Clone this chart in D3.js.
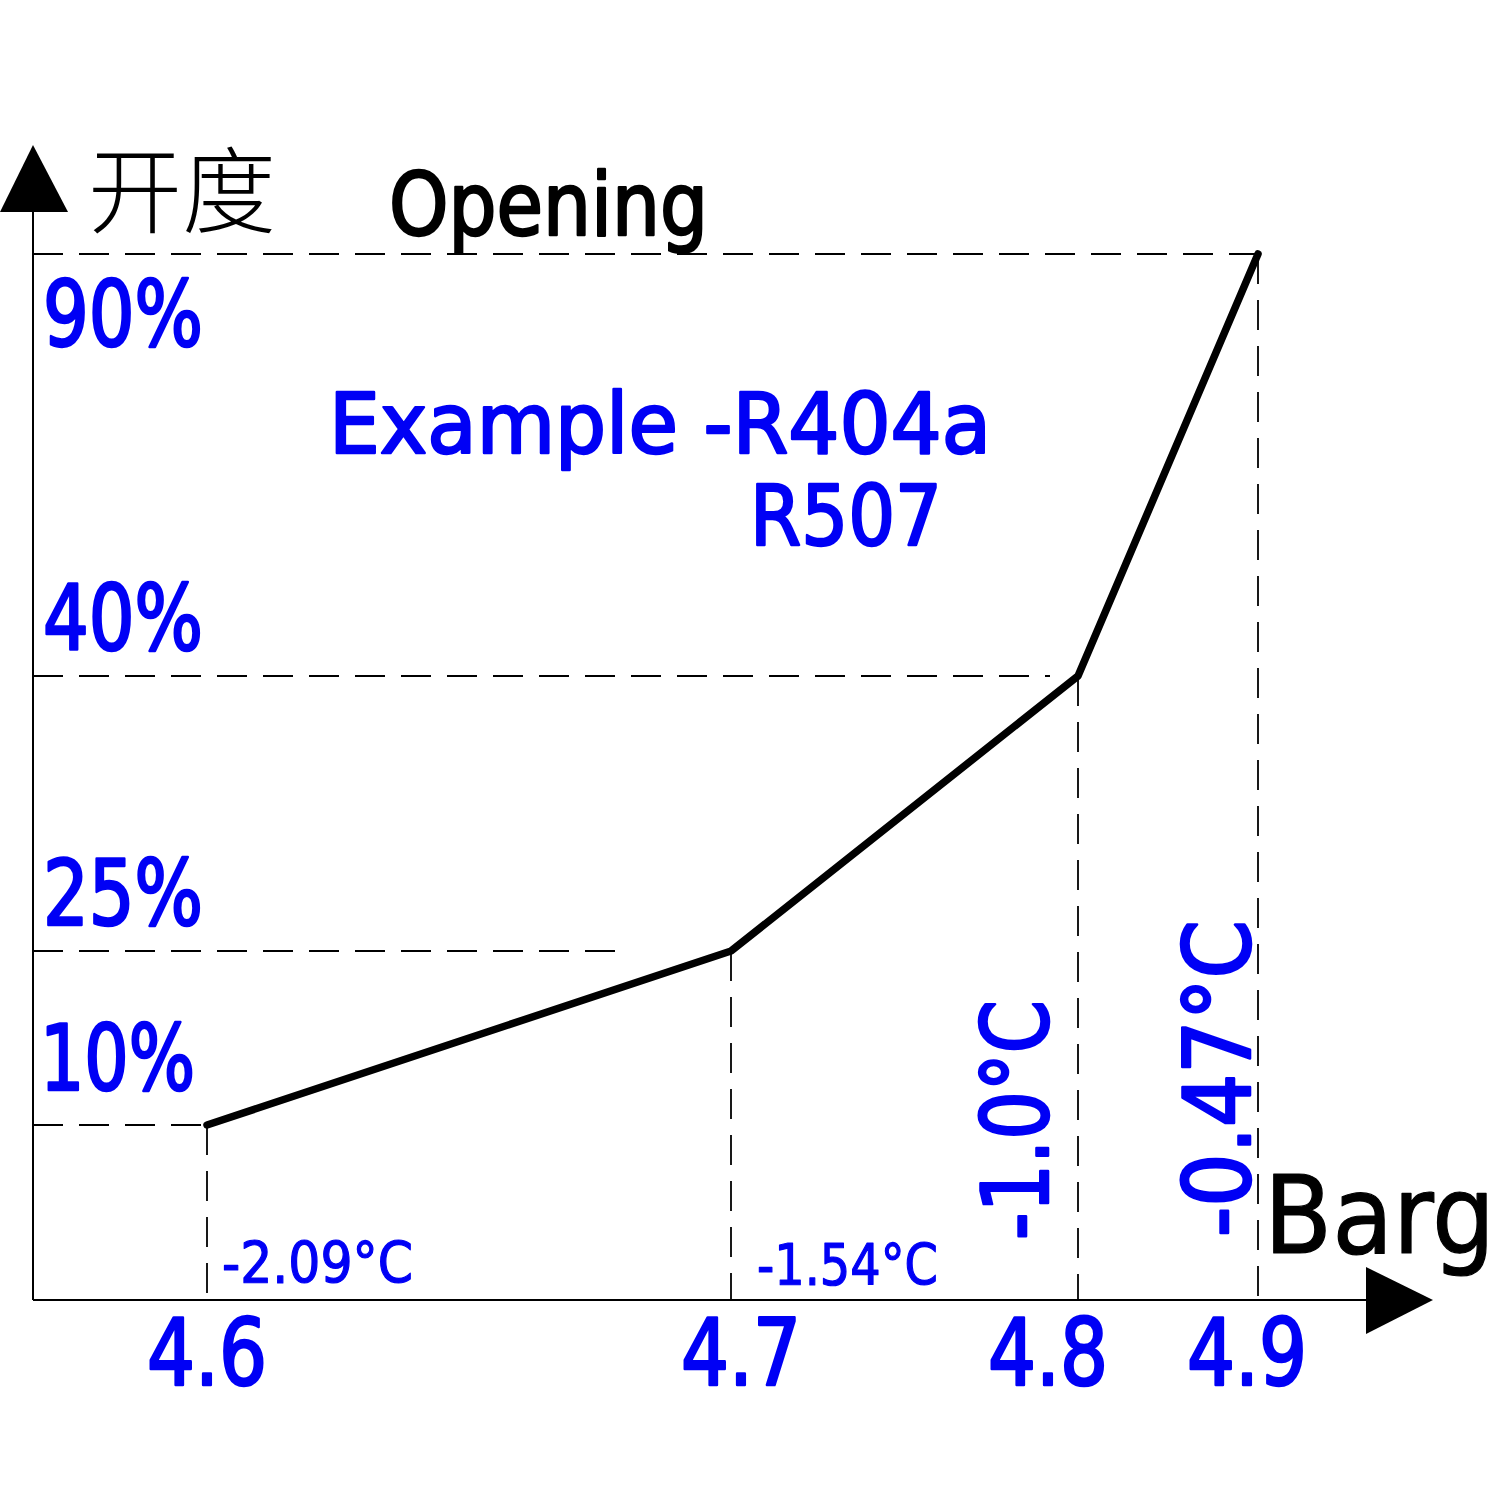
<!DOCTYPE html>
<html>
<head>
<meta charset="utf-8">
<script src="https://cdn.jsdelivr.net/npm/d3@7"></script>
<style>
  html, body { margin: 0; padding: 0; background: #fff; }
  svg { display: block; }
</style>
</head>
<body>
<div id="chart"></div>
<script>
// data
const pressures = [4.6, 4.7, 4.8, 4.9];          // Barg
const openings = [10, 25, 40, 90];               // %
const xTickLabels = ["4.6", "4.7", "4.8", "4.9"];
const yTickLabels = ["10%", "25%", "40%", "90%"];
const tempLabels = ["-2.09°C", "-1.54°C", "-1.0°C", "-0.47°C"];

const width = 1500, height = 1500;
const origin = { x: 33, y: 1300 };
const FONT = "'DejaVu Sans Condensed', 'DejaVu Sans', sans-serif";
const BLUE = "#0000f5";

const svg = d3.select("#chart").append("svg")
  .attr("width", width)
  .attr("height", height);

// the sketch is not to scale, so both scales are piecewise
const x = d3.scaleLinear().domain(pressures).range([207, 731, 1078, 1258]);
const y = d3.scaleLinear().domain([0, ...openings]).range([origin.y, 1125, 951, 676, 254]);

const points = pressures.map((p, i) => ({ p, v: openings[i] }));

// medium-weight look: regular glyphs with a thin outline of the same colour
function medium(sel, color, w) {
  sel.attr("fill", color).attr("stroke", color).attr("stroke-width", w)
    .attr("stroke-linejoin", "round");
}

// dashed guides
const guides = svg.append("g")
  .attr("stroke", "#000")
  .attr("stroke-width", 1.8)
  .attr("stroke-dasharray", "30 16")
  .attr("fill", "none");

// horizontal guides, some stop short of the point like in the sketch
const hEnd = [0, -116, -28, 0];
guides.selectAll("line.h")
  .data(points)
  .join("line")
  .attr("class", "h")
  .attr("x1", origin.x)
  .attr("x2", (d, i) => x(d.p) + hEnd[i])
  .attr("y1", d => y(d.v))
  .attr("y2", d => y(d.v));

guides.selectAll("line.v")
  .data(points)
  .join("line")
  .attr("class", "v")
  .attr("x1", d => x(d.p))
  .attr("x2", d => x(d.p))
  .attr("y1", d => y(d.v))
  .attr("y2", origin.y);

// axes with arrow heads
svg.append("line")
  .attr("x1", origin.x).attr("y1", origin.y)
  .attr("x2", origin.x).attr("y2", 210)
  .attr("stroke", "#000").attr("stroke-width", 2);
svg.append("path")
  .attr("d", `M${origin.x},145 L${origin.x + 35},212 L${origin.x - 33},212 Z`)
  .attr("fill", "#000");

svg.append("line")
  .attr("x1", origin.x).attr("y1", origin.y)
  .attr("x2", 1366).attr("y2", origin.y)
  .attr("stroke", "#000").attr("stroke-width", 2);
svg.append("path")
  .attr("d", `M1366,1267 L1433,${origin.y} L1366,1334 Z`)
  .attr("fill", "#000");

// the curve
svg.append("path")
  .datum(points)
  .attr("d", d3.line().x(d => x(d.p)).y(d => y(d.v)))
  .attr("fill", "none")
  .attr("stroke", "#000")
  .attr("stroke-width", 7.5)
  .attr("stroke-linecap", "round")
  .attr("stroke-linejoin", "round");

// y labels (the 90% one sits under its line)
svg.append("g").selectAll("text")
  .data(openings)
  .join("text")
  .attr("x", (d, i) => i === 0 ? 40 : 43)
  .attr("y", d => d === 90 ? y(d) + 92 : (d === 10 ? y(d) - 35 : y(d) - 26))
  .attr("font-family", FONT)
  .attr("font-size", 90)
  .call(medium, BLUE, 2.6)
  .attr("textLength", (d, i) => i === 0 ? 155 : 160)
  .attr("lengthAdjust", "spacingAndGlyphs")
  .text((d, i) => yTickLabels[i]);

// x labels
svg.append("g").selectAll("text")
  .data(pressures)
  .join("text")
  .attr("x", d => x(d) + (d === 4.8 ? -30 : (d === 4.9 ? -11 : (d === 4.7 ? 10 : 0))))
  .attr("y", 1385)
  .attr("text-anchor", "middle")
  .attr("font-family", FONT)
  .attr("font-size", 92)
  .call(medium, BLUE, 2.6)
  .attr("textLength", 120)
  .attr("lengthAdjust", "spacingAndGlyphs")
  .text((d, i) => xTickLabels[i]);

// temperature notes: first two flat, last two rotated
const flat = [0, 1];
svg.append("g").selectAll("text")
  .data(flat)
  .join("text")
  .attr("x", i => x(pressures[i]) + (i === 0 ? 15 : 26))
  .attr("y", i => i === 0 ? 1283 : 1285)
  .attr("font-family", FONT)
  .attr("font-size", 57)
  .call(medium, BLUE, 1.2)
  .attr("textLength", i => i === 0 ? 191 : 181)
  .attr("lengthAdjust", "spacingAndGlyphs")
  .text(i => tempLabels[i]);

const rotated = [2, 3];
svg.append("g").selectAll("text")
  .data(rotated)
  .join("text")
  .attr("transform", i => `translate(${x(pressures[i]) + (i === 2 ? -30 : -8)},${i === 2 ? 1240 : 1237}) rotate(-90)`)
  .attr("font-family", FONT)
  .attr("font-size", 92)
  .call(medium, BLUE, 2.6)
  .attr("textLength", i => i === 2 ? 240 : 317)
  .attr("lengthAdjust", "spacingAndGlyphs")
  .text(i => tempLabels[i]);

// titles
svg.append("text")
  .attr("x", 88).attr("y", 226)
  .attr("font-family", "'Noto Sans CJK SC', sans-serif")
  .attr("font-weight", 300)
  .attr("font-size", 94)
  .attr("fill", "#000")
  .text("开度");

svg.append("text")
  .attr("x", 389).attr("y", 235)
  .attr("font-family", FONT)
  .attr("font-size", 88)
  .call(medium, "#000", 2.4)
  .attr("textLength", 319)
  .attr("lengthAdjust", "spacingAndGlyphs")
  .text("Opening");

svg.append("text")
  .attr("x", 1264).attr("y", 1253)
  .attr("font-family", FONT)
  .attr("font-size", 108)
  .call(medium, "#000", 1.2)
  .attr("textLength", 231)
  .attr("lengthAdjust", "spacingAndGlyphs")
  .text("Barg");

svg.append("text")
  .attr("x", 329).attr("y", 453)
  .attr("font-family", FONT)
  .attr("font-size", 84)
  .call(medium, BLUE, 2.4)
  .attr("textLength", 662)
  .attr("lengthAdjust", "spacingAndGlyphs")
  .text("Example -R404a");

svg.append("text")
  .attr("x", 750).attr("y", 545)
  .attr("font-family", FONT)
  .attr("font-size", 84)
  .call(medium, BLUE, 2.4)
  .attr("textLength", 192)
  .attr("lengthAdjust", "spacingAndGlyphs")
  .text("R507");
</script>
</body>
</html>
